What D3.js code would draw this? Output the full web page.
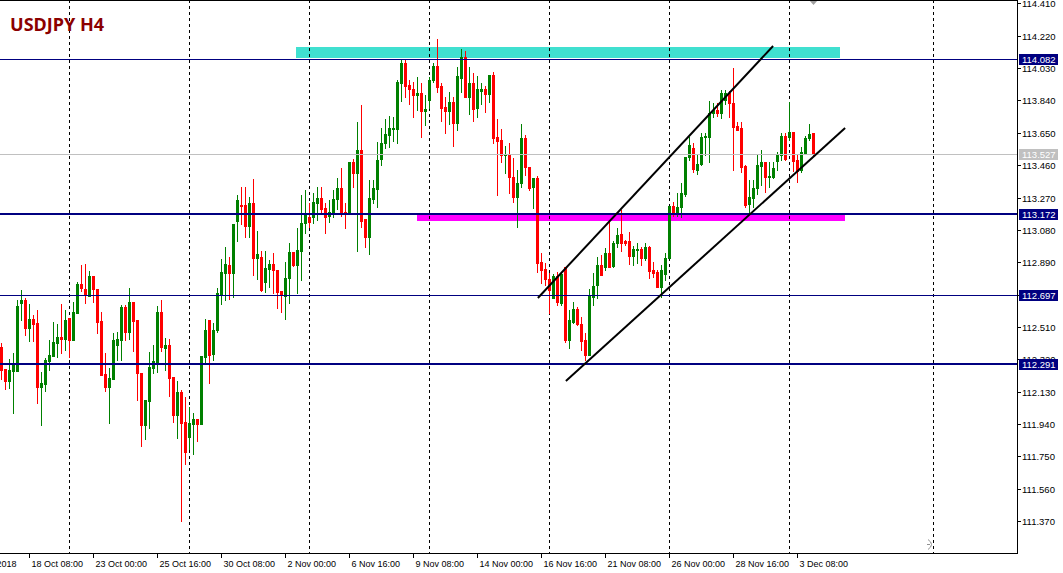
<!DOCTYPE html>
<html><head><meta charset="utf-8">
<script src="https://cdn.jsdelivr.net/npm/d3@7"></script>
<style>body{margin:0;background:#fff;overflow:hidden}svg{display:block}</style>
</head><body>
<svg id="chart" width="1063" height="573"></svg>
<script>
// ---- DATA (USDJPY H4, bar 0 = 17 Oct 2018 04:00) ----
const opens = [
112.393,112.263,112.193,112.251,112.251,112.650,112.668,112.504,112.557,112.533,
112.158,112.175,112.310,112.340,112.416,112.451,112.440,112.563,112.434,112.592,
112.763,112.733,112.692,112.809,112.733,112.545,112.234,112.158,112.205,112.404,
112.434,112.627,112.480,112.657,112.551,112.240,111.935,112.075,112.269,112.304,
112.598,112.387,112.404,112.217,111.993,112.128,111.952,111.864,111.941,111.970,
111.941,112.334,112.551,112.352,112.492,112.698,112.827,112.874,112.827,113.132,
113.226,113.226,113.103,113.238,112.915,112.921,112.774,112.850,112.880,112.845,
112.721,112.692,112.798,112.950,112.874,112.956,113.121,113.156,113.156,113.238,
113.267,113.209,113.162,113.185,113.261,113.326,113.185,113.179,113.479,113.414,
113.549,113.144,113.038,113.261,113.320,113.496,113.590,113.637,113.673,113.673,
113.943,114.060,113.931,113.907,113.872,113.884,113.778,113.843,113.960,114.042,
113.925,113.802,113.778,113.831,113.708,113.972,114.095,113.860,113.943,113.796,
113.896,113.907,113.878,113.990,113.626,113.608,113.520,113.526,113.391,113.273,
113.355,113.620,113.449,113.332,113.385,112.891,112.850,112.792,112.680,112.809,
112.651,112.862,112.434,112.539,112.616,112.528,112.434,112.346,112.686,112.757,
112.874,112.862,112.944,112.868,113.003,113.056,113.015,113.015,112.927,112.962,
112.968,112.915,112.980,112.845,112.833,112.745,112.821,112.915,113.220,113.185,
113.215,113.291,113.508,113.561,113.432,113.467,113.626,113.626,113.766,113.784,
113.766,113.843,113.884,113.825,113.690,113.678,113.455,113.232,113.267,113.326,
113.455,113.479,113.391,113.391,113.484,113.520,113.631,113.626,113.655,113.490,
113.432,113.531,113.620,113.649];
const highs = [
112.416,112.263,112.322,112.357,112.668,112.727,112.680,112.645,112.581,112.610,
112.246,112.328,112.434,112.539,112.528,112.645,112.610,112.563,112.657,112.774,
112.874,112.880,112.839,112.809,112.733,112.598,112.357,112.269,112.475,112.480,
112.639,112.639,112.739,112.657,112.551,112.240,112.081,112.363,112.404,112.633,
112.668,112.445,112.440,112.217,112.193,112.140,112.099,112.040,112.005,111.970,
112.340,112.557,112.551,112.533,112.739,112.909,112.980,112.921,113.115,113.285,
113.332,113.332,113.273,113.379,113.074,112.956,112.956,112.903,112.944,112.845,
112.721,112.891,113.003,112.950,113.091,113.285,113.314,113.238,113.297,113.332,
113.332,113.238,113.256,113.314,113.385,113.443,113.238,113.479,113.496,113.714,
113.813,113.144,113.373,113.373,113.596,113.678,113.731,113.749,113.743,113.960,
114.078,114.078,113.960,113.949,113.978,113.943,113.872,113.978,114.060,114.201,
113.943,113.860,113.890,113.860,114.037,114.142,114.130,114.037,114.001,113.984,
113.943,113.925,113.990,114.007,113.731,113.673,113.573,113.590,113.502,113.432,
113.702,113.637,113.449,113.385,113.397,112.944,112.886,112.827,112.821,112.833,
112.833,112.862,112.610,112.657,112.627,112.569,112.475,112.733,112.827,112.921,
112.933,112.974,113.126,113.015,113.091,113.197,113.021,113.068,112.986,113.003,
112.980,113.003,112.986,112.891,112.845,112.874,112.944,113.220,113.244,113.297,
113.355,113.508,113.626,113.590,113.526,113.649,113.649,113.837,113.825,113.825,
113.902,113.902,113.896,114.031,113.714,113.714,113.461,113.373,113.373,113.520,
113.549,113.479,113.479,113.479,113.537,113.649,113.649,113.831,113.655,113.520,
113.567,113.631,113.702,113.649];
const lows = [
112.204,112.146,112.152,112.005,112.251,112.551,112.463,112.428,112.428,112.063,
111.935,112.134,112.257,112.340,112.334,112.357,112.375,112.334,112.434,112.592,
112.721,112.650,112.692,112.657,112.475,112.228,112.134,111.946,112.205,112.316,
112.316,112.434,112.440,112.369,112.081,111.811,111.852,111.917,112.240,112.246,
112.369,112.257,112.105,111.952,111.858,111.371,111.706,111.794,111.765,111.841,
111.941,112.304,112.181,112.316,112.480,112.645,112.668,112.674,112.686,113.015,
113.115,113.038,113.038,112.815,112.792,112.721,112.715,112.745,112.710,112.621,
112.598,112.557,112.651,112.868,112.710,112.786,113.062,113.097,113.121,113.138,
113.179,113.062,113.126,113.156,113.203,113.162,113.091,113.179,113.332,112.956,
113.097,112.980,112.939,113.238,113.215,113.461,113.561,113.567,113.602,113.590,
113.837,113.860,113.819,113.743,113.784,113.626,113.696,113.796,113.949,113.890,
113.719,113.649,113.702,113.573,113.667,113.890,113.860,113.761,113.719,113.743,
113.819,113.772,113.831,113.590,113.285,113.479,113.414,113.297,113.244,113.097,
113.332,113.402,113.314,113.209,112.833,112.768,112.757,112.592,112.680,112.639,
112.639,112.422,112.387,112.533,112.522,112.375,112.316,112.346,112.639,112.680,
112.815,112.845,112.862,112.862,112.980,112.956,112.991,112.880,112.874,112.886,
112.874,112.903,112.798,112.804,112.745,112.686,112.786,112.915,113.162,113.162,
113.156,113.279,113.490,113.420,113.408,113.461,113.520,113.479,113.743,113.749,
113.737,113.819,113.743,113.432,113.667,113.420,113.214,113.179,113.214,113.291,
113.344,113.303,113.332,113.385,113.432,113.490,113.490,113.608,113.426,113.361,
113.420,113.531,113.608,113.520];
const closes = [
112.257,112.193,112.257,112.298,112.633,112.668,112.504,112.557,112.528,112.158,
112.181,112.316,112.346,112.422,112.451,112.440,112.551,112.434,112.598,112.763,
112.739,112.698,112.809,112.733,112.539,112.228,112.158,112.211,112.434,112.440,
112.627,112.480,112.657,112.545,112.240,111.935,112.081,112.275,112.310,112.598,
112.393,112.404,112.211,111.993,112.128,111.946,111.776,111.946,111.970,111.941,
112.340,112.492,112.346,112.492,112.710,112.833,112.880,112.827,113.115,113.256,
113.220,113.103,113.238,112.915,112.939,112.727,112.856,112.880,112.845,112.715,
112.698,112.798,112.950,112.874,112.962,113.121,113.173,113.126,113.244,113.267,
113.203,113.156,113.185,113.261,113.326,113.179,113.179,113.479,113.414,113.549,
113.132,113.038,113.267,113.326,113.490,113.590,113.643,113.678,113.678,113.948,
114.060,113.925,113.907,113.872,113.884,113.778,113.790,113.960,114.042,113.919,
113.796,113.778,113.831,113.708,113.984,114.095,113.860,113.943,113.790,113.907,
113.907,113.878,113.990,113.620,113.602,113.520,113.526,113.391,113.273,113.355,
113.620,113.449,113.326,113.385,112.886,112.845,112.792,112.727,112.809,112.657,
112.821,112.434,112.551,112.616,112.528,112.428,112.346,112.692,112.751,112.874,
112.815,112.944,112.862,113.003,113.050,113.003,113.003,112.927,112.968,112.968,
112.915,112.980,112.839,112.827,112.745,112.845,112.915,113.220,113.185,113.215,
113.297,113.508,113.579,113.438,113.467,113.626,113.631,113.766,113.784,113.766,
113.884,113.884,113.825,113.684,113.667,113.449,113.226,113.273,113.326,113.461,
113.479,113.391,113.397,113.443,113.520,113.631,113.496,113.655,113.484,113.426,
113.537,113.620,113.643,113.527];

const priceTicks = [114.410,114.220,114.030,113.840,113.650,113.460,113.270,113.080,112.890,112.700,112.510,112.320,112.130,111.940,111.750,111.560,111.370];
const timeTickIdx = [-9,7,23,39,55,71,87,103,119,135,151,167,183,199];
const timeTickLabels = ["16 Oct 2018","18 Oct 08:00","23 Oct 00:00","25 Oct 16:00","30 Oct 08:00","2 Nov 00:00","6 Nov 16:00","9 Nov 08:00","14 Nov 00:00","16 Nov 16:00","21 Nov 08:00","26 Nov 00:00","28 Nov 16:00","3 Dec 08:00"];
const gridIdx = [17,47,77,107,137,167,197,233];
const levelPrices = [114.082,113.172,112.697,112.291];
const levelWidths = [1,2,1,2];
const bidPrice = 113.527;
const zoneIdx = [[73.6,209.6],[103.9,210.9]];
const zonePrices = [[114.154,114.089],[113.166,113.132]];
const zoneColors = ["#40e0d0","#ff00ff"];
const trendIdx = [[134.1,192.9],[141.1,210.9]];
const trendPrices = [[112.680,114.160],[112.193,113.678]];
const title = "USDJPY H4";

// ---- DRAW ----
const plotW = 1017, plotH = 553;
const svg = d3.select("#chart");
const x = d3.scaleLinear().domain([0, 203]).range([1.5, 813.5]);
const y = d3.scaleLinear().domain([111.37, 114.41]).range([521.1, 3.4]);
const n = closes.length;

svg.append("rect").attr("width",1063).attr("height",573).attr("fill","#fff");
svg.append("defs").append("clipPath").attr("id","clip")
  .append("rect").attr("x",0).attr("y",0).attr("width",plotW).attr("height",plotH);
const plot = svg.append("g").attr("clip-path","url(#clip)");

// zones (background objects)
plot.selectAll("rect.zone").data(zoneIdx).join("rect").attr("class","zone")
  .attr("x",d=>Math.round(x(d[0])))
  .attr("width",d=>Math.round(x(d[1]))-Math.round(x(d[0])))
  .attr("y",(d,i)=>Math.round(y(zonePrices[i][0])))
  .attr("height",(d,i)=>Math.round(y(zonePrices[i][1]))-Math.round(y(zonePrices[i][0])))
  .attr("fill",(d,i)=>zoneColors[i]);

// vertical dashed grid
plot.selectAll("line.grid").data(gridIdx).join("line").attr("class","grid")
  .attr("x1",d=>Math.floor(x(d))+0.5).attr("x2",d=>Math.floor(x(d))+0.5)
  .attr("y1",0).attr("y2",plotH)
  .attr("stroke","#000").attr("stroke-width",1).attr("stroke-dasharray","3,3");

// candles
const idx = d3.range(n);
const cg = plot.append("g").attr("shape-rendering","crispEdges");
const col = i => closes[i] >= opens[i] ? "#008000" : "#ff0000";
cg.selectAll("rect.wick").data(idx).join("rect").attr("class","wick")
  .attr("x",i=>Math.floor(x(i)))
  .attr("width",1)
  .attr("y",i=>Math.round(y(highs[i])))
  .attr("height",i=>Math.max(1,Math.round(y(lows[i]))-Math.round(y(highs[i]))+1))
  .attr("fill",col);
cg.selectAll("rect.body").data(idx).join("rect").attr("class","body")
  .attr("x",i=>Math.floor(x(i))-1)
  .attr("width",3)
  .attr("y",i=>Math.round(y(Math.max(opens[i],closes[i]))))
  .attr("height",i=>Math.max(1,Math.round(y(Math.min(opens[i],closes[i])))-Math.round(y(Math.max(opens[i],closes[i])))+1))
  .attr("fill",col);

// bid line
plot.append("line")
  .attr("x1",0).attr("x2",plotW)
  .attr("y1",Math.round(y(bidPrice))+0.5).attr("y2",Math.round(y(bidPrice))+0.5)
  .attr("stroke","#c0c0c0").attr("stroke-width",1);

// horizontal levels
plot.selectAll("line.level").data(levelPrices).join("line").attr("class","level")
  .attr("x1",0).attr("x2",plotW)
  .attr("y1",(d,i)=>levelWidths[i]===1?Math.round(y(d))+0.5:Math.round(y(d)))
  .attr("y2",(d,i)=>levelWidths[i]===1?Math.round(y(d))+0.5:Math.round(y(d)))
  .attr("stroke","#000080").attr("stroke-width",(d,i)=>levelWidths[i]);

// trendlines
plot.selectAll("line.trend").data(trendIdx).join("line").attr("class","trend")
  .attr("x1",d=>x(d[0])).attr("x2",d=>x(d[1]))
  .attr("y1",(d,i)=>y(trendPrices[i][0])).attr("y2",(d,i)=>y(trendPrices[i][1]))
  .attr("stroke","#000").attr("stroke-width",2);

// shift markers
plot.append("path")
  .attr("d",`M${Math.floor(x(n-1))-4},0L${Math.floor(x(n-1))+5},0L${Math.floor(x(n-1))+0.5},5Z`)
  .attr("fill","#a0a0a0");
plot.append("path")
  .attr("d",`M${Math.floor(x(232))-1},539.5Q${Math.floor(x(232))+6},544.5 ${Math.floor(x(232))-1},549.5M${Math.floor(x(232))-2},544.5h3`)
  .attr("fill","none").attr("stroke","#909090").attr("stroke-width",1);

// title
svg.append("text").attr("x",10).attr("y",31)
  .attr("font-family","'Noto Sans', 'DejaVu Sans', sans-serif").attr("font-weight","bold")
  .attr("font-size",18).attr("fill","#8b0000")
  .attr("textLength",94).attr("lengthAdjust","spacingAndGlyphs")
  .text(title);

// frame
const fr = svg.append("g").attr("stroke","#000").attr("stroke-width",1).attr("shape-rendering","crispEdges");
fr.append("line").attr("x1",0).attr("x2",plotW+1).attr("y1",0.5).attr("y2",0.5);
fr.append("line").attr("x1",plotW+0.5).attr("x2",plotW+0.5).attr("y1",0).attr("y2",plotH+1);
fr.append("line").attr("x1",0).attr("x2",plotW+1).attr("y1",plotH+0.5).attr("y2",plotH+0.5);

const fontAxis = "'Liberation Sans', Arial, sans-serif";
// price axis
const pa = svg.append("g");
const pt = pa.selectAll("g").data(priceTicks).join("g")
  .attr("transform",d=>`translate(0,${Math.round(y(d))+0.5})`);
pt.append("line").attr("x1",plotW).attr("x2",plotW+4).attr("stroke","#000").attr("shape-rendering","crispEdges");
pt.append("text").attr("x",plotW+5).attr("dy","0.33em")
  .attr("font-family",fontAxis).attr("font-size",9.5).attr("fill","#000")
  .text(d=>d3.format(".3f")(d));

// price labels boxes
const boxes = levelPrices.map(p=>({p, fill:"#000080"})).concat([{p:bidPrice, fill:"#c0c0c0"}]);
const bx = pa.selectAll("g.box").data(boxes).join("g").attr("class","box")
  .attr("transform",d=>`translate(0,${Math.round(y(d.p))})`);
bx.append("rect").attr("x",plotW+2).attr("y",-5).attr("width",39).attr("height",11).attr("fill",d=>d.fill);
bx.append("text").attr("x",plotW+5).attr("y",0.5).attr("dy","0.33em")
  .attr("font-family",fontAxis).attr("font-size",9.5).attr("fill","#fff")
  .text(d=>d3.format(".3f")(d.p));

// time axis
const ta = svg.append("g");
const tt = ta.selectAll("g").data(timeTickIdx).join("g")
  .attr("transform",d=>`translate(${Math.floor(x(d))+0.5},0)`);
tt.append("line").attr("y1",plotH+1).attr("y2",plotH+5).attr("stroke","#000").attr("shape-rendering","crispEdges");
tt.append("text").attr("x",2).attr("y",plotH+14)
  .attr("font-family",fontAxis).attr("font-size",9).attr("fill","#000")
  .text((d,i)=>timeTickLabels[i]);
</script>
</body></html>
